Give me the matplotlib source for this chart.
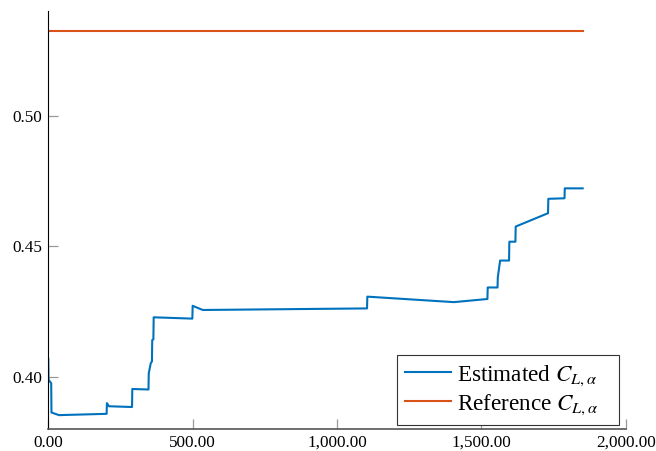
import numpy as np
import matplotlib
matplotlib.use("Agg")
import matplotlib.pyplot as plt
from matplotlib.ticker import FuncFormatter

plt.rcParams['font.family'] = ['Liberation Serif', 'DejaVu Serif']
plt.rcParams['mathtext.fontset'] = 'stix'

# iteration vs. estimated lift slope
iteracije = [0, 1, 10, 11, 37, 202, 203, 210, 290, 291, 347, 348, 355, 359,
             360, 364, 365, 499, 500, 535, 1104, 1105, 1405, 1521, 1522,
             1556, 1557, 1565, 1596, 1597, 1618, 1619, 1731, 1732, 1788,
             1789, 1851]
cl_ocena = [0.4069, 0.3990, 0.3977, 0.3865, 0.3855, 0.3860, 0.3901, 0.3889,
            0.3886, 0.3955, 0.3953, 0.4015, 0.4054, 0.4060, 0.4142, 0.4145,
            0.4229, 0.4224, 0.4273, 0.4257, 0.4263, 0.4308, 0.4287, 0.4299,
            0.4343, 0.4343, 0.4382, 0.4446, 0.4446, 0.4518, 0.4518, 0.4576,
            0.4627, 0.4682, 0.4684, 0.4722, 0.4722]

ref_x = [0, 1851]
cl_ref = [0.5324, 0.5324]

x_ticks = [0, 500, 1000, 1500, 2000]
y_ticks = [0.40, 0.45, 0.50]

fig = plt.figure(figsize=(6.56, 4.51), dpi=100)
ax = fig.add_axes([48.3 / 656, 1 - 429 / 451, (625.7 - 48.3) / 656, (429 - 11) / 451])

# trailing spaces keep some room on the right of the legend box
ax.plot(iteracije, cl_ocena, color='#0072BD', lw=1.5, label=r'Estimated $C_{L,\alpha}$' + '   ')
ax.plot(ref_x, cl_ref, color='#D95319', lw=1.5, label=r'Reference $C_{L,\alpha}$' + '   ')

ax.set_xlim(0, 2000)
ax.set_ylim(0.3802, 0.5400)
ax.set_xticks(x_ticks)
ax.set_yticks(y_ticks)
ax.xaxis.set_major_formatter(FuncFormatter(lambda v, p: f"{v:,.2f}"))
ax.yaxis.set_major_formatter(FuncFormatter(lambda v, p: f"{v:.2f}"))

ax.spines['top'].set_visible(False)
ax.spines['right'].set_visible(False)
ax.spines['left'].set_color('black')
ax.spines['left'].set_linewidth(0.8)
ax.spines['bottom'].set_color('#555555')
ax.spines['bottom'].set_linewidth(1.2)

ax.tick_params(axis='both', direction='in', length=7, width=0.9,
               color='#999999', labelsize=12.3, labelcolor='black')
ax.tick_params(axis='x', pad=4)
ax.tick_params(axis='y', pad=4.5)

leg = ax.legend(loc='lower right', bbox_to_anchor=(619.3 / 656, 1 - 425 / 451),
                bbox_transform=fig.transFigure, borderaxespad=0,
                fontsize=16.7, handlelength=1.97, handletextpad=0.26,
                labelspacing=0.2, borderpad=0.36, fancybox=False,
                framealpha=1, edgecolor='#333333')
leg.get_frame().set_linewidth(0.8)

fig.savefig('out.png', dpi=100)
